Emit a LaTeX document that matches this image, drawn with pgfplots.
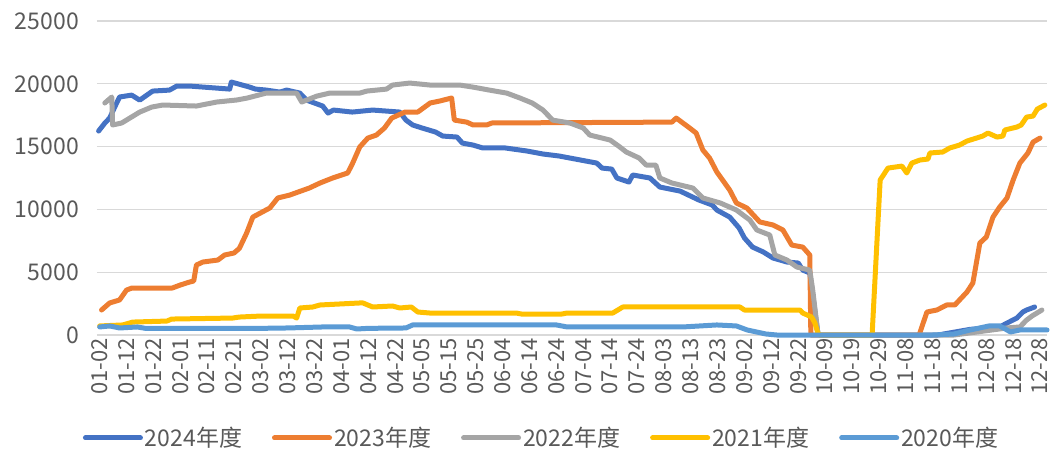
\documentclass[border=0pt]{standalone}
\usepackage{pgfplots}
\pgfplotsset{compat=1.18}
\usepackage{fontspec}
\setmainfont{Noto Sans CJK SC}

\definecolor{c24}{HTML}{4472C4}
\definecolor{c23}{HTML}{ED7D31}
\definecolor{c22}{HTML}{A5A5A5}
\definecolor{c21}{HTML}{FFC000}
\definecolor{c20}{HTML}{5B9BD5}
\definecolor{txt}{HTML}{595959}
\definecolor{gridc}{HTML}{D9D9D9}

\begin{document}
\begin{tikzpicture}
\begin{axis}[
  at={(0,0)}, anchor=south west,
  scale only axis, width=950pt, height=314pt,
  xmin=-1, xmax=352.6, ymin=0, ymax=25000,
  clip=false,
  axis line style={draw=none},
  ytick={0,5000,10000,15000,20000,25000},
  scaled y ticks=false,
  xtick={0,10,...,350},
  xticklabels={01-02,01-12,01-22,02-01,02-11,02-21,03-02,03-12,03-22,04-01,04-12,04-22,05-05,05-15,05-25,06-04,06-14,06-24,07-04,07-14,07-24,08-03,08-13,08-23,09-02,09-12,09-22,10-09,10-19,10-29,11-08,11-18,11-28,12-08,12-18,12-28},
  major tick length=0pt,
  ymajorgrids, grid style={gridc, line width=1.3pt},
  /pgf/number format/assume math mode=true,
  /pgf/number format/1000 sep={},
  yticklabel style={font=\fontsize{23}{25}\selectfont, text=txt, inner sep=0pt, xshift=-18pt},
  xticklabel style={font=\fontsize{22}{24}\selectfont, text=txt, rotate=90, anchor=east, inner sep=0pt, xshift=-3pt},
  every axis plot/.append style={line width=5pt, line join=round, line cap=round},
  legend columns=5,
  legend style={draw=none, at={(0.468,-0.328)}, anchor=center,
    font=\fontsize{23}{25}\selectfont, text=txt,
    /tikz/every even column/.append style={column sep=28pt}},
  legend image code/.code={\draw[#1, line width=5pt, line cap=round] (0pt,0pt) -- (55pt,0pt);},
]
% 2024
\addplot[c24] coordinates {(-0.4,16240) (1.9,16870) (3.7,17270) (5.6,18150) (7.4,18950) (11.9,19100) (14.9,18700) (19.7,19420) (26,19500) (28.7,19820) (33.5,19820) (48.4,19580) (49,20140) (55.8,19740) (58,19580) (62,19500) (67,19340) (69.6,19500) (74.5,19260) (77,18700) (83,18230) (85,17670) (87,17910) (94,17750) (101.6,17910) (111.7,17750) (114,17110) (116.5,16720) (120,16480) (125,16160) (127.7,15840) (133,15760) (135,15280) (139,15120) (142.6,14890) (151,14890) (159,14650) (165,14410) (171,14250) (179,13930) (185,13690) (187,13290) (190.6,13210) (192.5,12500) (197,12180) (198.4,12740) (204.8,12500) (208.5,11780) (216,11460) (223,10750) (228,10350) (229.7,9950) (234.5,9390) (238,8520) (240,7720) (243,7000) (247,6610) (250.6,6130) (255.8,5810) (260,5730) (261.7,5170) (264.3,4940) (265.5,3020) (267.3,160) (268,0) (312,0) (320,300) (324,450) (331,560) (335,640) (337.7,950) (341.4,1350) (343.6,1830) (345,1990) (348,2230)};
\addlegendentry{2024年度}
% 2023
\addplot[c23] coordinates {(0.7,1990) (3.7,2550) (7.4,2790) (10,3580) (12,3740) (27,3740) (30,3980) (33.5,4220) (35,4300) (36,5570) (38.4,5810) (44,5970) (46.5,6370) (50,6530) (52,6900) (54.7,8120) (57,9390) (63.3,10110) (66.3,10910) (70.7,11140) (78,11700) (82,12100) (86.7,12500) (92.3,12900) (94,13610) (96.8,14970) (99.8,15680) (103,15920) (106,16480) (108.7,17270) (113.6,17750) (118.4,17750) (123,18470) (126.6,18630) (131,18870) (132,17110) (136.6,16950) (139,16720) (144,16720) (146,16880) (213,16950) (214.6,17270) (219.6,16480) (222,16080) (224.5,14730) (227,14090) (229.7,12980) (234.5,11540) (237,10510) (240.9,10110) (245.7,9000) (250.6,8760) (254.3,8360) (257.6,7160) (261.7,7000) (264.3,6370) (264.7,0) (305,0) (307.9,1830) (311.6,1990) (315.3,2390) (318.3,2390) (322.8,3420) (325,4140) (327.6,7320) (330,7800) (332.5,9390) (335,10190) (337.7,10910) (340,12340) (342.5,13690) (345.5,14490) (347.4,15360) (350,15680)};
\addlegendentry{2023年度}
% 2022
\addplot[c22] coordinates {(1.9,18470) (4.5,18950) (4.8,16720) (8.2,16880) (14.9,17750) (19.4,18150) (23.5,18310) (36,18230) (43.6,18550) (51,18710) (55,18870) (62,19260) (73.3,19260) (75.2,18550) (80.8,19020) (85.6,19260) (96.8,19260) (99.4,19420) (106.8,19580) (109,19900) (115.4,20060) (123,19900) (134,19900) (138.9,19740) (145,19500) (151.5,19260) (156.4,18870) (161,18470) (165,17910) (168.6,17110) (175,16880) (180,16480) (182.4,15920) (187,15680) (190,15520) (193.6,14970) (196,14570) (200.8,14090) (203.4,13530) (207,13530) (208.5,12500) (213,12100) (220.8,11700) (224.5,10910) (231,10510) (237,9950) (242,9150) (244.6,8360) (249.4,7960) (251.3,6370) (255.8,5970) (259.5,5410) (264.3,5170) (265.4,3580) (267.3,160) (268,0) (318,0) (326.5,240) (337.7,560) (342.5,640) (345,1190) (347,1510) (350.7,1990)};
\addlegendentry{2022年度}
% 2021
\addplot[c21] coordinates {(0,720) (8.6,800) (12.3,1030) (25,1110) (26.8,1270) (49.5,1350) (52,1430) (60,1510) (72,1510) (73.3,1350) (74.5,2150) (79.3,2230) (82,2390) (96.8,2550) (98,2550) (101.6,2230) (109,2310) (111.7,2150) (116,2230) (118.4,1830) (122.9,1750) (155,1750) (157,1670) (172,1670) (174,1750) (191,1750) (194.7,2230) (238.3,2230) (240,1990) (260.6,1990) (261.7,1750) (265,1430) (266.2,960) (267.3,160) (268,0) (287.5,0) (290.5,12340) (293.4,13290) (298.6,13450) (300.4,12900) (302.3,13690) (305.3,13930) (308.3,14010) (309,14490) (313.8,14570) (316.4,14890) (320,15120) (322.8,15440) (328.7,15840) (330.6,16080) (334,15760) (336.2,15840) (336.9,16320) (341.4,16560) (343,16720) (345,17350) (347.4,17430) (349,17990) (351.8,18310)};
\addlegendentry{2021年度}
% 2020
\addplot[c20] coordinates {(0,640) (3.7,720) (7.4,560) (14,640) (17,530) (60,530) (70,560) (83,640) (93,640) (95.7,480) (100,530) (114,560) (116.5,800) (170,800) (174,640) (217,640) (229.7,800) (237,720) (241,400) (248,80) (252,0) (310,0) (318,80) (324,400) (331,720) (335,720) (337.7,400) (339,240) (342.5,400) (352.6,400)};
\addlegendentry{2020年度}
\end{axis}
\pgfresetboundingbox
\useasboundingbox (-97pt,-126pt) rectangle (954pt,335pt);
\end{tikzpicture}
\end{document}
